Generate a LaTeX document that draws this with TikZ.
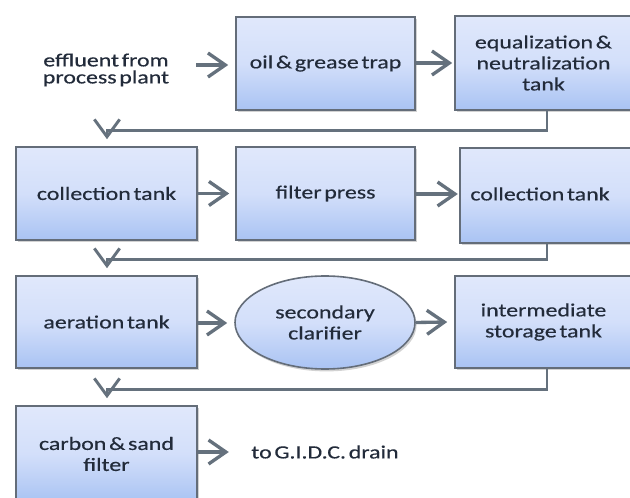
\documentclass[tikz,border=0pt]{standalone}
\usepackage{fontspec}
\setmainfont{Carlito}[FakeStretch=1.28,WordSpace=0.5,FakeBold=0.4]
\usetikzlibrary{arrows.meta,shadows,shapes.geometric,calc}
\definecolor{boxtop}{HTML}{E0E8FB}
\definecolor{boxmid}{HTML}{D3DFFA}
\definecolor{boxbot}{HTML}{A9C3F3}
\definecolor{edgec}{HTML}{646D79}
\definecolor{arrowc}{HTML}{65717D}
\definecolor{txtc}{HTML}{222B3A}
\begin{document}
\begin{tikzpicture}[x=0.75pt,y=-0.75pt,
  every node/.style={font=\fontsize{14pt}{15.75pt}\selectfont, text=txtc, align=center},
  sz/.style 2 args={minimum width=#1*0.75pt, minimum height=#2*0.75pt},
  procbox/.style={draw=edgec, line width=1.2pt, top color=boxtop, bottom color=boxbot, middle color=boxmid,
    drop shadow={shadow xshift=1.2pt, shadow yshift=-1.8pt, opacity=0.35}, inner sep=0pt},
  flow/.style={draw=arrowc, line width=2.5pt, -{Straight Barb[length=13pt,width=18pt]}},
  conn/.style={draw=arrowc, line width=2.2pt, -{Straight Barb[length=13pt,width=19pt]}}
]
\fill[white] (0,0) rectangle (630,498);
\useasboundingbox (0,0) rectangle (630,498);

\node[procbox, sz={179}{93}] (oil) at (325.5,63.5) {oil \& grease trap};
\node[procbox, sz={177}{94}] (eq) at (543.5,63) {equalization \&\\neutralization\\tank};
\node[procbox, sz={181}{93}] (coll1) at (106.5,193.5) {collection tank};
\node[procbox, sz={179}{93}] (filt) at (325.5,193.5) {filter press};
\node[procbox, sz={172}{95}] (coll2) at (546,195.5) {};
\node (coll2t) at (540,194) {collection tank};
\node[procbox, sz={181}{92}] (aer) at (106.5,322) {aeration tank};
\node[procbox, ellipse, sz={180}{93}] (clar) at (325,322.5) {secondary\\clarifier};
\node[procbox, sz={177}{92}] (inter) at (543.5,322) {intermediate\\storage tank};
\node[procbox, sz={181}{96}] (carb) at (106.5,454) {carbon \& sand\\filter};
\node[font=\fontsize{14pt}{12.75pt}\selectfont] (eff) at (106,70) {effluent from\\process plant};
\node (drain) at (325,452) {to G.I.D.C. drain};

\draw[flow] ($(oil.west)+(-39,1.5)$) -- ($(oil.west)+(-7,1.5)$);
\draw[flow] ($(oil.east)+(0,-0.5)$) -- ($(eq.west)+(-2,0)$);
\draw[flow] (coll1.east) -- ($(filt.west)+(-6,0)$);
\draw[flow] ($(filt.east)+(0,0.5)$) -- ($(filt.east)+(42,0.5)$);
\draw[flow] ($(aer.east)+(0,1)$) -- ($(clar.west)+(-7,0.5)$);
\draw[flow] (clar.east) -- ($(inter.west)+(-7,0)$);
\draw[flow] ($(carb.east)+(0,-2)$) -- ($(carb.east)+(31,-2)$);

\draw[conn] ($(eq.south)+(3.5,0)$) -- ++(0,20) -| ($(coll1.north)+(0.5,-7)$);
\draw[conn] ($(coll2.south)+(1,0)$) -- ++(0,16) -| ($(aer.north)+(0.5,-7)$);
\draw[conn] ($(inter.south)+(3.5,0)$) -- ++(0,21) -| ($(carb.north)+(0.5,-7)$);
\end{tikzpicture}
\end{document}
